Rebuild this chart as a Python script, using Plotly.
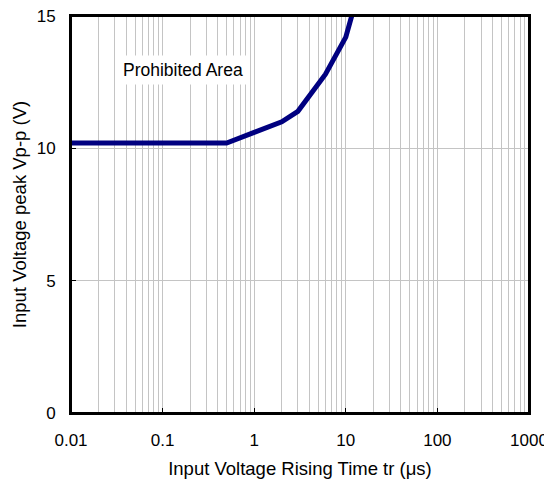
import plotly.graph_objects as go

# Data
rise_time_us = [0.01, 0.5, 1, 2, 3, 6, 10, 11.6]
vpp_peak_v = [10.2, 10.2, 10.6, 11.0, 11.4, 12.8, 14.2, 15.0]

x_major_ticks = [0.01, 0.1, 1, 10, 100, 1000]
x_major_labels = ["0.01", "0.1", "1", "10", "100", "1000"]
x_minor_ticks = [k * 10.0 ** e for e in range(-2, 3) for k in range(2, 10)]
y_ticks = [0, 5, 10, 15]

FONT = "Liberation Sans, Arial, sans-serif"
GRID = "#c4c4c4"

fig = go.Figure()
fig.add_trace(go.Scatter(
    x=rise_time_us, y=vpp_peak_v, mode="lines",
    line=dict(color="#000080", width=5),
    showlegend=False, hoverinfo="skip", cliponaxis=True,
))

fig.update_xaxes(
    type="log", range=[-2, 3],
    tickmode="array", tickvals=x_major_ticks, ticktext=x_major_labels,
    ticks="inside", ticklen=5, tickwidth=1, tickcolor="#000000",
    ticklabelstandoff=11, ticklabeloverflow="allow",
    showgrid=True, gridcolor=GRID, gridwidth=1,
    minor=dict(tickmode="array", tickvals=x_minor_ticks, showgrid=True,
               gridcolor=GRID, gridwidth=1, ticks=""),
    showline=True, linecolor="#000000", linewidth=2, mirror=True,
    zeroline=False,
    tickfont=dict(size=17, color="#000000", family=FONT),
    title=dict(text="Input Voltage Rising Time tr (μs)",
               font=dict(size=18.5, color="#000000", family=FONT), standoff=13),
)
fig.update_yaxes(
    range=[0, 15], tickmode="array", tickvals=y_ticks,
    ticks="inside", ticklen=5, tickwidth=1, tickcolor="#000000",
    ticklabelstandoff=10, ticklabeloverflow="allow",
    showgrid=True, gridcolor=GRID, gridwidth=1,
    showline=True, linecolor="#000000", linewidth=2, mirror=True,
    zeroline=False,
    tickfont=dict(size=17, color="#000000", family=FONT),
    title=dict(text="Input Voltage peak Vp-p (V)",
               font=dict(size=18.5, color="#000000", family=FONT), standoff=5),
)

# plot-area frame
fig.add_shape(type="rect", xref="paper", yref="paper", x0=0, y0=0, x1=1, y1=1,
              line=dict(color="#000000", width=2), layer="above")

fig.add_annotation(
    xref="paper", yref="paper", x=0.245, y=0.864,
    xanchor="center", yanchor="middle",
    text="Prohibited Area", showarrow=False,
    font=dict(size=17.5, color="#000000", family=FONT),
    bgcolor="#ffffff", borderpad=4,
)

# page body adds an 8px offset; size the figure so it fits the window
fig.update_layout(
    width=544, height=476,
    margin=dict(l=63, r=23, t=8, b=71, autoexpand=False),
    paper_bgcolor="#ffffff", plot_bgcolor="#ffffff",
)

fig.write_html("out.html")
